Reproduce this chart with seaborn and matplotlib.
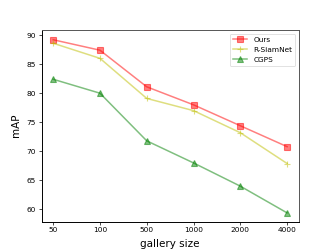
import pandas as pd
import seaborn as sns
import matplotlib.pyplot as plt

# Data
gallery_sizes = ['50', '100', '500', '1000', '2000', '4000']
ours = [89.2, 87.4, 81.1, 78.0, 74.4, 70.8]
r_siamnet = [88.6, 86.0, 79.1, 77.0, 73.2, 67.9]
cgps = [82.4, 80.0, 71.8, 68.0, 64.0, 59.4]

series = [
    ('Ours', ours, 'r', 's'),
    ('R-SiamNet', r_siamnet, 'y', '+'),
    ('CGPS', cgps, 'g', '^'),
]

plt.rcParams['font.family'] = ['DejaVu Sans']
fig, ax = plt.subplots(figsize=(3.32, 2.49), dpi=100)

# One line per method (mixed filled/line markers, so plot separately)
for name, values, color, marker in series:
    df = pd.DataFrame({'gallery size': gallery_sizes, 'mAP': values})
    sns.lineplot(
        data=df, x='gallery size', y='mAP', color=color, marker=marker,
        alpha=0.5, linewidth=1.1, markersize=4, markeredgewidth=0.8,
        markeredgecolor=color, sort=False, label=name, ax=ax,
    )

ax.set_xlabel('gallery size', fontsize=7.5)
ax.set_ylabel('mAP', fontsize=7.5)
ax.tick_params(labelsize=5.3, length=2, width=0.5, pad=2)
ax.margins(x=0.05)
ax.set_ylim(57.9, 90.9)
ax.set_yticks([60, 65, 70, 75, 80, 85, 90])

for side in ['left', 'bottom']:
    ax.spines[side].set_color('black')
    ax.spines[side].set_linewidth(0.7)
for side in ['top', 'right']:
    ax.spines[side].set_color('#555555')
    ax.spines[side].set_linewidth(0.7)

leg = ax.legend(loc='upper right', fontsize=5.3,
                handlelength=2, borderpad=0.4, labelspacing=0.55)
leg.get_frame().set_linewidth(0.5)

plt.subplots_adjust(left=0.125, right=0.9, bottom=0.11, top=0.88)
plt.savefig('out.png', dpi=100)
